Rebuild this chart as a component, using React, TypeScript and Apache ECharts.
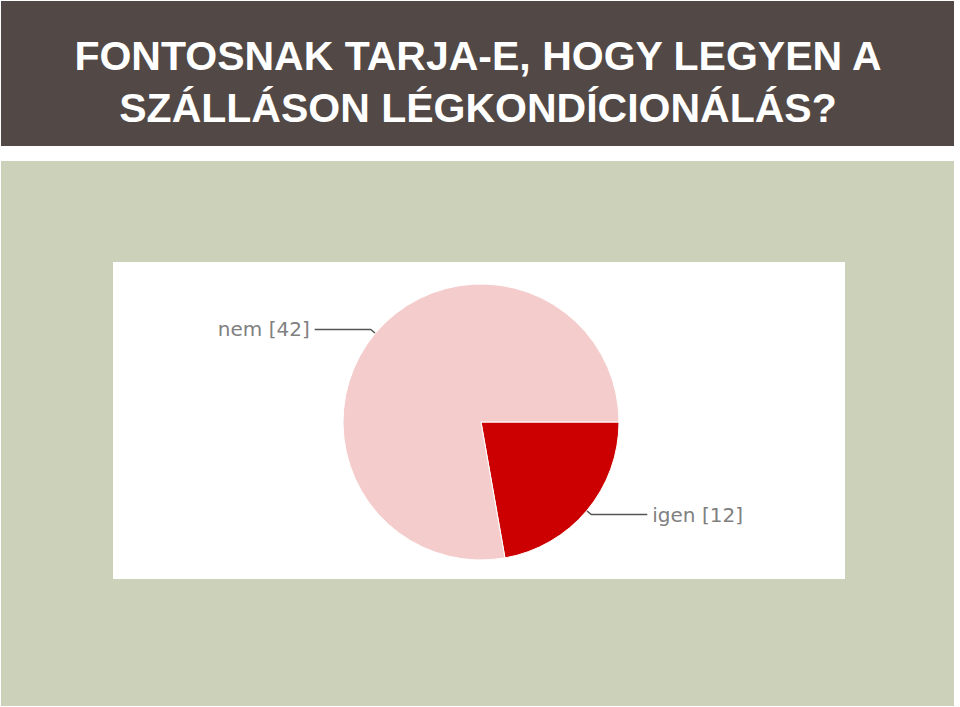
import React, { useEffect, useRef } from 'react';
import * as echarts from 'echarts';

// survey answers
const answers = ['igen', 'nem'];
const counts = [12, 42];
const sliceColors = ['#cc0000', '#f4cccc'];
const titleLines = ['FONTOSNAK TARJA-E, HOGY LEGYEN A', 'SZÁLLÁSON LÉGKONDÍCIONÁLÁS?'];

const App: React.FC = () => {
  const chartRef = useRef<HTMLDivElement>(null);

  useEffect(() => {
    if (!chartRef.current) return;
    const chart = echarts.init(chartRef.current, undefined, { renderer: 'svg' });

    const option = {
      animation: false,
      backgroundColor: '#ffffff',
      graphic: [
        // header band
        { type: 'rect', shape: { x: 1, y: 1, width: 953, height: 145 }, style: { fill: '#524946' }, z: 0 },
        // green panel
        { type: 'rect', shape: { x: 1, y: 161, width: 953, height: 545 }, style: { fill: '#ccd1b9' }, z: 0 },
        // white chart box
        { type: 'rect', shape: { x: 113, y: 262, width: 732, height: 317 }, style: { fill: '#ffffff' }, z: 0 },
        ...titleLines.map((line, i) => ({
          type: 'text',
          x: 478,
          y: 56 + i * 52,
          z: 1,
          style: {
            text: line,
            fill: '#ffffff',
            font: 'bold 41px "Liberation Sans", Arial, sans-serif',
            textAlign: 'center',
            textVerticalAlign: 'middle',
          },
        })),
      ],
      series: [
        {
          type: 'pie',
          center: [481, 422],
          radius: 138,
          startAngle: 0,
          clockwise: true,
          itemStyle: { borderColor: '#ffffff', borderWidth: 1 },
          label: {
            show: true,
            formatter: '{b} [{c}]',
            color: '#808080',
            fontFamily: '"DejaVu Sans", sans-serif',
            fontSize: 20,
          },
          labelLine: {
            show: true,
            length: 6,
            length2: 56,
            lineStyle: { color: '#555555', width: 1.5 },
          },
          data: answers.map((name, i) => ({
            name,
            value: counts[i],
            itemStyle: { color: sliceColors[i] },
          })),
        },
      ],
    };

    chart.setOption(option);
    return () => {
      chart.dispose();
    };
  }, []);

  return (
    <div
      ref={chartRef}
      style={{ position: 'absolute', left: 0, top: 0, width: '960px', height: '707px' }}
    ></div>
  );
};

export default App;
